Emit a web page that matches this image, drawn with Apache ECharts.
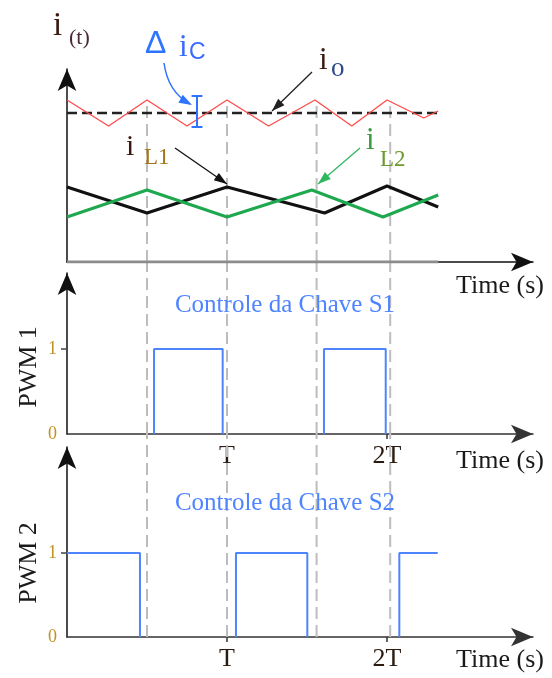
<!DOCTYPE html>
<html><head><meta charset="utf-8">
<script src="https://cdn.jsdelivr.net/npm/echarts@6/dist/echarts.min.js"></script>
<style>html,body{margin:0;padding:0;background:#fff}#c{width:552px;height:678px}</style>
</head><body><div id="c"></div>
<script>
// ---- data (time in units of the switching period T) ----
const dashT = [0.5, 1.0, 1.56, 2.02];
const icT = [0, 0.26, 0.5, 0.75, 1.0, 1.26, 1.55, 1.78, 2.0, 2.23, 2.32];
const icY = [162, 136, 162, 136, 162, 136, 162, 136, 162, 144, 151];
const ioT = [0, 2.32];
const ioY = [149, 149];
const iL1T = [0, 0.5, 1.0, 1.61, 2.0, 2.32];
const iL1Y = [75, 49, 75, 49, 76, 55];
const iL2T = [0, 0.5, 1.0, 1.53, 1.975, 2.32];
const iL2Y = [45, 72, 45, 72, 45, 67];
const deltaT = [0.8125];
const deltaY = [135, 166];
const pwm1Pulses = [[0.544, 0.973], [1.606, 1.992]];
const pwm2Pulses = [[0, 0.456], [1.056, 1.502], [2.077, 2.317]];
const traceEnd = 2.317;
const xTicks = [1, 2];
const xTickLabels = ['T', '2T'];
const yTicks = [0, 1];

// ---- helpers ----
const serif = '"Liberation Serif","Times New Roman",serif';
const sans = '"Liberation Sans",Arial,sans-serif';
const zip = (a, b) => a.map((v, i) => [v, b[i]]);
const T_MAX = 2.9125;
const yMax = [193, 1.894, 2.262];

const grids = [
  {left: 67, right: 19, top: 69, height: 193},
  {left: 67, right: 19, top: 273, height: 161},
  {left: 67, right: 19, top: 447, height: 190}
];

function axisArrow(color, w) {
  return {show: true, symbol: ['none', 'arrow'], symbolSize: [14, 22], lineStyle: {color: color, width: w}};
}
function pulsePoints(p) {
  const pts = [];
  if (p[0] > 0) pts.push([p[0], 0]);
  pts.push([p[0], 1], [p[1], 1]);
  if (p[1] < traceEnd) pts.push([p[1], 0]);
  return pts;
}
const base = {type: 'line', symbol: 'none', animation: false, silent: true};

const series = [];
// dashed vertical guides (continue up to the axis of the panel above)
[0, 1, 2].forEach(g => {
  let top;
  if (g === 0) top = Math.max(...icY);
  else {
    const prevBottom = grids[g - 1].top + grids[g - 1].height;
    const gridBottom = grids[g].top + grids[g].height;
    top = yMax[g] * (gridBottom - prevBottom) / grids[g].height;
  }
  dashT.forEach(t => {
    series.push(Object.assign({}, base, {
      xAxisIndex: g, yAxisIndex: g, z: 1, clip: false,
      data: [[t, 0], [t, top]],
      lineStyle: {color: '#bdbdbd', width: 2, type: [12, 6]}
    }));
  });
});
// top panel
series.push(Object.assign({}, base, {xAxisIndex: 0, yAxisIndex: 0, z: 2,
  data: [[0, 0], [ioT[1], 0]], lineStyle: {color: '#8c8c8c', width: 3}}));
series.push(Object.assign({}, base, {xAxisIndex: 0, yAxisIndex: 0, z: 3,
  data: zip(ioT, ioY), lineStyle: {color: '#222', width: 2.5, type: [10, 5]}}));
series.push(Object.assign({}, base, {xAxisIndex: 0, yAxisIndex: 0, z: 4,
  data: zip(icT, icY), lineStyle: {color: '#ff4a4a', width: 1.3}}));
series.push(Object.assign({}, base, {xAxisIndex: 0, yAxisIndex: 0, z: 4,
  data: zip(iL1T, iL1Y), lineStyle: {color: '#111', width: 3}}));
series.push(Object.assign({}, base, {xAxisIndex: 0, yAxisIndex: 0, z: 4,
  data: zip(iL2T, iL2Y), lineStyle: {color: '#1fa84f', width: 3}}));
const cap = 0.034;
series.push(Object.assign({}, base, {xAxisIndex: 0, yAxisIndex: 0, z: 5,
  data: [[deltaT[0] - cap, deltaY[1]], [deltaT[0] + cap, deltaY[1]], [deltaT[0], deltaY[1]],
         [deltaT[0], deltaY[0]], [deltaT[0] - cap, deltaY[0]], [deltaT[0] + cap, deltaY[0]]],
  lineStyle: {color: '#2f74ff', width: 2}}));
// PWM panels
pwm1Pulses.forEach(p => series.push(Object.assign({}, base, {xAxisIndex: 1, yAxisIndex: 1, z: 4,
  data: pulsePoints(p), lineStyle: {color: '#4f84ff', width: 2}})));
pwm2Pulses.forEach(p => series.push(Object.assign({}, base, {xAxisIndex: 2, yAxisIndex: 2, z: 4,
  data: pulsePoints(p), lineStyle: {color: '#4f84ff', width: 2}})));

const xAxes = grids.map((g, i) => ({
  gridIndex: i, type: 'value', min: 0, max: T_MAX,
  axisLine: axisArrow(i === 0 ? '#111' : '#333', 1.5),
  axisTick: i === 0 ? {show: false} : {show: true, customValues: xTicks, length: 5, lineStyle: {color: '#333', width: 1.5}},
  axisLabel: i === 0 ? {show: false} : {show: true, customValues: xTicks,
    formatter: v => xTickLabels[xTicks.indexOf(v)] || '',
    fontFamily: serif, fontSize: 26, color: '#2a1a10', margin: 9},
  splitLine: {show: false}
}));
const yAxes = grids.map((g, i) => ({
  gridIndex: i, type: 'value', min: 0, max: yMax[i],
  axisLine: axisArrow('#111', 1.5),
  axisTick: i === 0 ? {show: false} : {show: true, customValues: [1], length: 6, lineStyle: {color: '#444', width: 1.5}},
  axisLabel: i === 0 ? {show: false} : {show: true, customValues: yTicks, formatter: v => String(v),
    fontFamily: serif, fontSize: 18, color: '#c09020', margin: 10},
  splitLine: {show: false}
}));

// ---- annotation text and arrows ----
function txt(text, x, y, size, color, fam, align, rot) {
  return {type: 'text', x: x, y: y, rotation: rot || 0, z: 10, silent: true,
    style: {text: text, font: size + 'px ' + (fam || serif), fill: color,
      align: align || 'left', textAlign: align || 'left', verticalAlign: 'middle', textVerticalAlign: 'middle'}};
}
function head(tx, ty, dx, dy, color, L, W) {
  const len = Math.hypot(dx, dy), ux = dx / len, uy = dy / len;
  const bx = tx - ux * L, by = ty - uy * L;
  return {type: 'polygon', z: 10, silent: true,
    shape: {points: [[tx, ty], [bx - uy * W / 2, by + ux * W / 2], [bx + uy * W / 2, by - ux * W / 2]]},
    style: {fill: color}};
}
function arrow(x1, y1, x2, y2, color) {
  return [
    {type: 'line', z: 10, silent: true, shape: {x1: x1, y1: y1, x2: x2, y2: y2}, style: {stroke: color, lineWidth: 1.3}},
    head(x2, y2, x2 - x1, y2 - y1, color, 13, 9)
  ];
}
const graphics = [
  txt('i', 53, 26, 33, '#3a1a10'),
  txt('(t)', 69, 38, 22, '#4a2a3a'),
  txt('Δ', 145, 44, 32, '#2f74ff', sans),
  txt('i', 179, 48, 31, '#3a6bff'),
  txt('C', 189, 53, 23, '#3a6bff', sans),
  txt('i', 319, 61, 31, '#3a1a10'),
  txt('o', 331, 69, 27, '#2a4a8a'),
  txt('i', 126, 147, 30, '#3a1a10'),
  txt('L1', 144, 158, 23, '#a0741a'),
  txt('i', 366, 141, 31, '#3a9a40'),
  txt('L2', 380, 160, 23, '#6a9a2a'),
  txt('Controle da Chave S1', 285, 305, 25, '#4f84ff', serif, 'center'),
  txt('Controle da Chave S2', 285, 503, 25, '#4f84ff', serif, 'center'),
  txt('Time (s)', 500, 286, 26, '#1a1a1a', serif, 'center'),
  txt('Time (s)', 500, 461, 26, '#1a1a1a', serif, 'center'),
  txt('Time (s)', 500, 660, 26, '#1a1a1a', serif, 'center'),
  txt('PWM 1', 29, 367, 26, '#1a1a1a', serif, 'center', Math.PI / 2),
  txt('PWM 2', 29, 563, 26, '#1a1a1a', serif, 'center', Math.PI / 2),
  ...arrow(312, 72, 272, 111, '#222'),
  ...arrow(175, 148, 227, 184, '#111'),
  ...arrow(360, 148, 318, 184, '#2fb860'),
  {type: 'bezierCurve', z: 10, silent: true, shape: {x1: 164, y1: 63, x2: 190, y2: 104, cpx1: 168, cpy1: 92},
    style: {stroke: '#2f74ff', lineWidth: 1.5, fill: 'none'}},
  head(192, 105, 22, 12, '#2f74ff', 13, 9)
];

const chart = echarts.init(document.getElementById('c'));
chart.setOption({
  animation: false,
  backgroundColor: '#fff',
  grid: grids,
  xAxis: xAxes,
  yAxis: yAxes,
  series: series,
  graphic: graphics
});
</script>
</body></html>
